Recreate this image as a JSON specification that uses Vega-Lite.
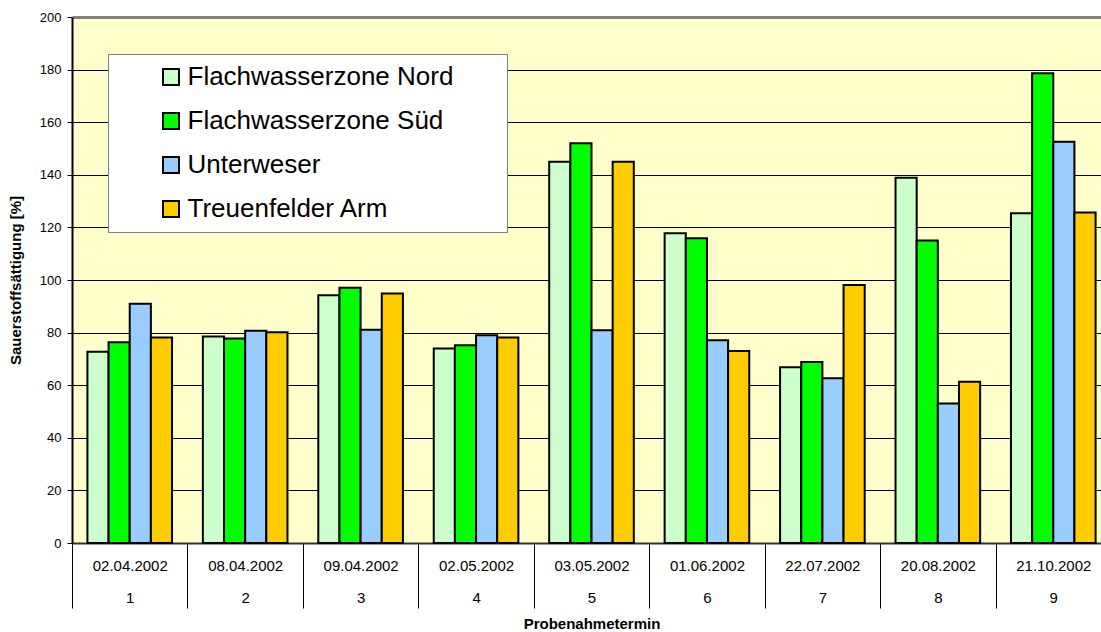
{
  "$schema": "https://vega.github.io/schema/vega-lite/v6.json",
  "width": 1029,
  "height": 526,
  "autosize": {"type": "none"},
  "padding": {"left": 72, "top": 17, "right": 0, "bottom": 89},
  "background": "white",
  "data": {
    "values": [
      {"Datum": "02.04.2002", "Nr": 1, "Flachwasserzone Nord": 72.7, "Flachwasserzone Süd": 76.3, "Unterweser": 91.0, "Treuenfelder Arm": 78.1},
      {"Datum": "08.04.2002", "Nr": 2, "Flachwasserzone Nord": 78.5, "Flachwasserzone Süd": 77.8, "Unterweser": 80.7, "Treuenfelder Arm": 80.1},
      {"Datum": "09.04.2002", "Nr": 3, "Flachwasserzone Nord": 94.2, "Flachwasserzone Süd": 97.1, "Unterweser": 81.1, "Treuenfelder Arm": 94.9},
      {"Datum": "02.05.2002", "Nr": 4, "Flachwasserzone Nord": 74.0, "Flachwasserzone Süd": 75.2, "Unterweser": 79.0, "Treuenfelder Arm": 78.1},
      {"Datum": "03.05.2002", "Nr": 5, "Flachwasserzone Nord": 145.0, "Flachwasserzone Süd": 152.0, "Unterweser": 80.9, "Treuenfelder Arm": 145.0},
      {"Datum": "01.06.2002", "Nr": 6, "Flachwasserzone Nord": 117.8, "Flachwasserzone Süd": 115.9, "Unterweser": 77.1, "Treuenfelder Arm": 73.0},
      {"Datum": "22.07.2002", "Nr": 7, "Flachwasserzone Nord": 66.8, "Flachwasserzone Süd": 68.8, "Unterweser": 62.6, "Treuenfelder Arm": 98.1},
      {"Datum": "20.08.2002", "Nr": 8, "Flachwasserzone Nord": 138.9, "Flachwasserzone Süd": 115.0, "Unterweser": 53.0, "Treuenfelder Arm": 61.3},
      {"Datum": "21.10.2002", "Nr": 9, "Flachwasserzone Nord": 125.4, "Flachwasserzone Süd": 178.6, "Unterweser": 152.6, "Treuenfelder Arm": 125.7}
    ]
  },
  "transform": [
    {"fold": ["Flachwasserzone Nord", "Flachwasserzone Süd", "Unterweser", "Treuenfelder Arm"], "as": ["Messstelle", "Wert"]},
    {"calculate": "datum.Datum + '|' + datum.Nr", "as": "Termin"}
  ],
  "mark": {"type": "bar", "stroke": "black", "strokeWidth": 2, "opacity": 1},
  "encoding": {
    "x": {
      "field": "Termin",
      "type": "nominal",
      "sort": null,
      "scale": {"range": [0, 1039], "paddingInner": 0.267, "paddingOuter": 0.1335},
      "axis": {
        "title": "Probenahmetermin",
        "titleFontSize": 15,
        "titleFontWeight": "bold",
        "titleColor": "black",
        "titlePadding": 8,
        "labelExpr": "split(datum.label, '|')",
        "labelAngle": 0,
        "labelFontSize": 15,
        "labelColor": "black",
        "labelLineHeight": 32,
        "labelPadding": -50,
        "tickOffset": -57.72,
        "labelOffset": 57.72,
        "tickSize": 65,
        "tickColor": "black",
        "tickWidth": 1,
        "domainColor": "#333333",
        "domainWidth": 2,
        "grid": false
      }
    },
    "xOffset": {
      "field": "Messstelle",
      "type": "nominal",
      "scale": {"domain": ["Flachwasserzone Nord", "Flachwasserzone Süd", "Unterweser", "Treuenfelder Arm"], "paddingInner": 0, "paddingOuter": 0}
    },
    "y": {
      "field": "Wert",
      "type": "quantitative",
      "scale": {"domain": [0, 200], "nice": false},
      "axis": {
        "title": "Sauerstoffsättigung [%]",
        "titleFontSize": 15,
        "titleFontWeight": "bold",
        "titleColor": "black",
        "titlePadding": 16,
        "values": [0, 20, 40, 60, 80, 100, 120, 140, 160, 180, 200],
        "labelFontSize": 13,
        "labelColor": "black",
        "labelPadding": 6,
        "tickSize": 5,
        "tickColor": "black",
        "domainColor": "black",
        "domainWidth": 2,
        "grid": true,
        "gridColor": {"condition": {"test": "datum.value === 200", "value": "#808080"}, "value": "black"},
        "gridWidth": {"condition": {"test": "datum.value === 200", "value": 3}, "value": 1},
        "gridOpacity": 1
      }
    },
    "color": {
      "field": "Messstelle",
      "type": "nominal",
      "scale": {
        "domain": ["Flachwasserzone Nord", "Flachwasserzone Süd", "Unterweser", "Treuenfelder Arm"],
        "range": ["#CCFFCC", "#00FF00", "#99CCFF", "#FFCC00"]
      },
      "legend": {
        "orient": "none",
        "legendX": 36,
        "legendY": 37,
        "title": null,
        "labelFontSize": 26,
        "labelColor": "black",
        "labelLimit": 600,
        "labelExpr": "datum.label + '\u00a0\u00a0\u00a0\u00a0\u00a0\u00a0\u200b'",
        "symbolType": "square",
        "symbolSize": 256,
        "symbolStrokeWidth": 2,
        "symbolStrokeColor": "black",
        "symbolOpacity": 1,
        "padding": 10,
        "rowPadding": 18,
        "symbolOffset": 40,
        "labelOffset": 3.5,
        "fillColor": "white",
        "strokeColor": "#808080"
      }
    }
  },
  "config": {
    "font": "Liberation Sans",
    "view": {"fill": "#FFFFCC", "stroke": null}
  }
}
